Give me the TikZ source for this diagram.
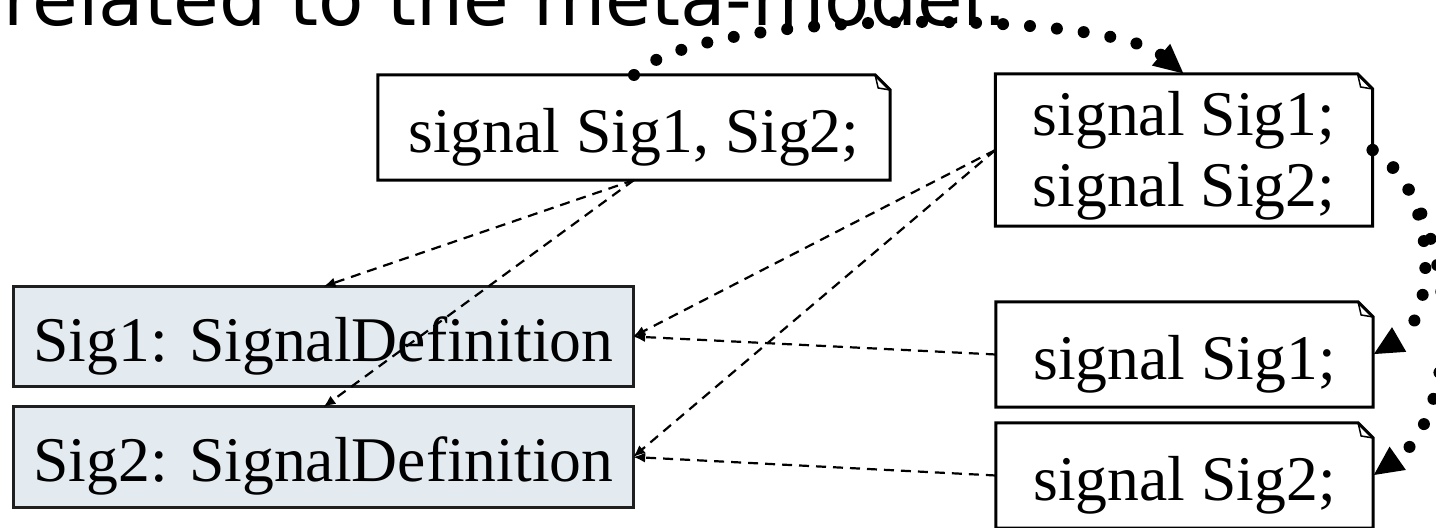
\documentclass[tikz,border=0pt]{standalone}
\usepackage{fontspec}
\setmainfont{Liberation Serif}
\newfontfamily\titlefont{DejaVu Sans}
\usetikzlibrary{arrows.meta}
\definecolor{sigblue}{RGB}{227,235,241}
\def\noteoutline(#1){\draw[noteline] (#1.north west) -- ([xshift=-0.15cm]#1.north east) -- ([yshift=-0.15cm]#1.north east) -- (#1.south east) -- (#1.south west) -- cycle;
	\draw[noteline, line width=0.015cm] ([xshift=-0.15cm]#1.north east) -- ([xshift=-0.12cm, yshift=-0.13cm]#1.north east) -- ([yshift=-0.15cm]#1.north east);}

\tikzset{
	codefont/.style={font=\fontsize{18.1pt}{20.2pt}\selectfont},
	notebox/.style={codefont, inner sep=0pt, outer sep=0pt, minimum width=3.77cm},
	oneline/.style={minimum height=1.05cm, text height=0.5cm, text depth=0pt},
	defbox/.style={codefont, draw=black!88, line width=0.03cm, fill=sigblue, inner sep=0pt, outer sep=0pt, minimum width=6.19cm, minimum height=1cm, text height=0.49cm, text depth=0pt},
	noteline/.style={line width=0.03cm, line join=miter},
	trace/.style={line width=0.022cm, dash pattern=on 0.1cm off 0.07cm, -{Latex[length=0.12cm, width=0.1cm]}},
	refines/.style={line width=0.12cm, dash pattern=on 0pt off 0.27cm, line cap=round, -{Triangle[length=0.3cm, width=0.26cm]}}
}

\begin{document}
\begin{tikzpicture}[x=0.01cm, y=0.01cm]
	%%%%% START %%%%%
	\useasboundingbox (0,0) rectangle (1436,-527);
	\clip (0,0) rectangle (1436,-527);
	
	\node[anchor=base west, inner sep=0pt, font=\titlefont\fontsize{21.1pt}{24pt}\selectfont] (title) at (3,-25) {related to the meta-model.};
	
	\node[notebox, oneline, minimum width=5.12cm] (decl) at (634,-127.5) {signal Sig1, Sig2;};
	\node[notebox, minimum height=1.52cm, align=center, text height=1.12cm, text depth=0pt] (split) at (1184,-150) {signal Sig1;\\signal Sig2;};
	\node[notebox, oneline] (one1) at (1184.5,-354.5) {signal Sig1;};
	\node[notebox, oneline] (one2) at (1184.5,-475.5) {signal Sig2;};
	
	\node[defbox] (def1) at (323.5,-336.5) {Sig1: SignalDefinition};
	\node[defbox] (def2) at (323.5,-457) {Sig2: SignalDefinition};
	
	\noteoutline(decl)
	\noteoutline(split)
	\noteoutline(one1)
	\noteoutline(one2)
	
	\draw[trace] (decl.south) -- (def1.north);
	\draw[trace] (decl.south) -- (def2.north);
	\draw[trace] (split.west) -- (def1.east);
	\draw[trace] (split.west) -- (def2.east);
	\draw[trace] (one1.west) -- (def1.east);
	\draw[trace] (one2.west) -- (def2.east);
	
	\draw[refines] (decl.north) to[out=45, in=140, looseness=0.46] (split.north);
	\draw[refines] (split.east) to[out=-30, in=30, looseness=0.94] (one1.east);
	\draw[refines] (split.east) to[out=-35, in=35, looseness=0.86] (one2.east);
	
	%%%%% END %%%%%
\end{tikzpicture}
\end{document}
